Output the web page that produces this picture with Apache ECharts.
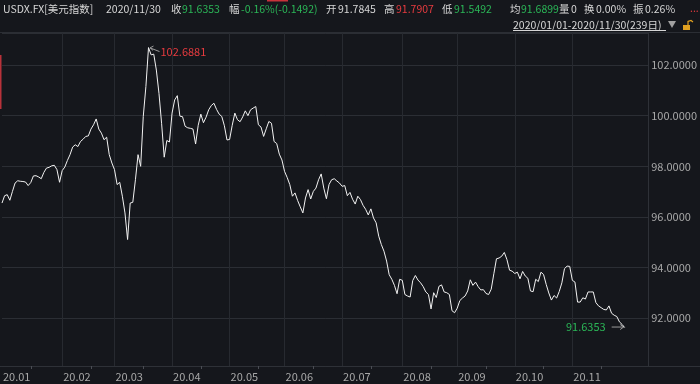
<!DOCTYPE html>
<html><head><meta charset="utf-8">
<script src="https://cdn.jsdelivr.net/npm/echarts@6/dist/echarts.min.js"></script>
<style>html,body{margin:0;padding:0;background:#15171c;}#c{width:700px;height:384px;}</style>
</head><body><div id="c"></div>
<script>
// Month tick labels
const monthLabels = ['20.01','20.02','20.03','20.04','20.05','20.06','20.07','20.08','20.09','20.10','20.11'];
// USDX daily closes, by month (2020/01/01 - 2020/11/30, 239 trading days)
const jan = [96.55,96.84,96.88,96.66,97.01,97.34,97.43,97.41,97.40,97.38,97.24,97.36,97.62,97.63,97.58,97.51,97.76,97.93,97.96,98.02,98.04,97.87,97.37];
const feb = [97.83,97.97,98.23,98.46,98.76,98.85,98.78,98.98,99.07,99.18,99.20,99.47,99.64,99.87,99.47,99.31,99.05,99.15,98.46,98.13];
const mar = [97.87,97.28,97.37,96.82,96.16,95.11,96.55,96.58,97.47,98.46,98.00,99.97,101.15,102.6881,102.40,102.43,101.80,100.88,99.70,98.36,99.02,98.96];
const apr = [100.10,100.62,100.79,99.98,99.96,99.58,99.52,99.50,99.47,98.88,99.62,100.06,99.72,99.94,100.23,100.40,100.49,100.25,100.06,99.97,99.60,99.04];
const may = [99.06,99.62,100.10,99.84,99.76,99.95,100.19,100.00,100.23,100.30,100.36,99.64,99.55,99.18,99.48,99.77,99.70,98.98,98.90,98.48,98.25];
const jun = [97.80,97.56,97.28,96.82,96.95,96.65,96.40,96.16,96.75,97.08,96.71,97.01,97.14,97.47,97.70,97.14,96.72,97.28,97.47,97.51,97.42,97.34];
const jul = [97.21,97.24,96.84,96.97,96.70,96.51,96.82,96.69,96.46,96.30,96.08,96.32,95.96,95.77,95.24,94.91,94.65,94.26,93.72,93.54,93.30,92.97,93.54];
const aug = [93.50,92.94,92.88,92.84,93.49,93.69,93.51,93.40,93.25,93.04,92.94,92.37,93.01,92.82,93.26,93.32,93.04,93.01,92.94,92.30,92.22];
const sep = [92.40,92.70,92.80,92.88,93.08,93.52,93.30,93.43,93.25,93.12,93.13,92.98,92.94,93.15,93.76,94.35,94.38,94.45,94.60,94.32,93.90,93.86];
const oct = [93.77,93.82,93.56,93.85,93.67,93.58,93.08,93.05,93.54,93.45,93.82,93.73,93.34,93.00,92.72,92.90,92.80,93.06,93.40,93.96,94.06,94.05];
const nov = [93.50,93.43,92.64,92.64,92.81,92.76,93.04,93.04,93.04,92.62,92.49,92.42,92.35,92.33,92.49,92.20,92.12,92.07,91.86,91.76,91.6353];
const emptySlots = 9; // blank space right of the last trading day

const months = [jan,feb,mar,apr,may,jun,jul,aug,sep,oct,nov];
const values = [].concat(...months);
const monthStart = [];
{ let acc = 0; months.forEach(m => { monthStart.push(acc); acc += m.length; }); }
const cats = values.map((_, i) => 'd' + i);
for (let k = 0; k < emptySlots; k++) cats.push('e' + k);
const maxIdx = values.indexOf(Math.max(...values));
const lastIdx = values.length - 1;

const FONT = '"Noto Sans CJK SC","Noto Sans",sans-serif';
const GRID = '#272a30';
const chart = echarts.init(document.getElementById('c'), null, {renderer: 'canvas'});
const isMonth = (i) => monthStart.indexOf(i) >= 0;
const isMid = (i) => monthStart.some(s => i === s + 11);

chart.setOption({
  backgroundColor: '#15171c',
  animation: false,
  grid: {left: 2, right: 50, top: 33, bottom: 18},
  xAxis: {
    type: 'category', data: cats, boundaryGap: false,
    axisLine: {show: true, lineStyle: {color: '#2e3137'}},
    axisTick: {show: true, interval: (i) => isMid(i), length: 3, lineStyle: {color: '#4a4d54'}},
    axisLabel: {
      interval: (i) => isMonth(i), align: 'left', margin: 5, padding: [0,0,0,1],
      color: '#a8a8a8', fontSize: 11, fontFamily: FONT,
      formatter: (v, i) => monthLabels[monthStart.indexOf(i)] || ''
    },
    splitLine: {show: true, interval: (i) => isMonth(i) && i > 0, lineStyle: {color: GRID, width: 1}}
  },
  yAxis: {
    type: 'value', position: 'right', min: 90.117, max: 103.263, splitNumber: 6, scale: true,
    axisLine: {show: true, lineStyle: {color: '#2e3137'}},
    axisTick: {show: false},
    axisLabel: {showMinLabel: false, showMaxLabel: false, margin: 3, color: '#a8a8a8', fontSize: 11, fontFamily: FONT,
      formatter: (v) => v.toFixed(4)},
    splitLine: {show: true, lineStyle: {color: '#2b2e34', width: 1}}
  },
  series: [{
    type: 'line', data: values, showSymbol: false, symbol: 'none',
    lineStyle: {color: '#f2f2f2', width: 1}, silent: true
  }]
});

const pMax = chart.convertToPixel({gridIndex: 0}, [maxIdx, values[maxIdx]]);
const pLast = chart.convertToPixel({gridIndex: 0}, [lastIdx, values[lastIdx]]);

const WHITE = '#d6d6d6', GREEN = '#2bb657', RED = '#e63b3f', GRAY = '#9a9a9a';
function t(x, y, text, fill, extra, size) {
  return {type: 'text', silent: true, style: Object.assign({x: x, y: y, text: text, fill: fill,
    font: (size || 10.5) + 'px ' + FONT, verticalAlign: 'middle', textVerticalAlign: 'middle'}, extra || {})};
}
const header = [
  t(3, 9, 'USDX.FX[美元指数]', WHITE),
  t(106, 9, '2020/11/30', WHITE),
  t(171, 9, '收', WHITE), t(182, 9, '91.6353', GREEN),
  t(229, 9, '幅', WHITE), t(241, 9, '-0.16%(-0.1492)', GREEN),
  t(326, 9, '开', WHITE), t(338, 9, '91.7845', WHITE),
  t(384, 9, '高', WHITE), t(396, 9, '91.7907', RED),
  t(442, 9, '低', WHITE), t(454, 9, '91.5492', GREEN),
  t(510, 9, '均', WHITE), t(521, 9, '91.6899', GREEN),
  t(559, 9, '量', WHITE), t(571, 9, '0', WHITE),
  t(584, 9, '换', WHITE), t(596, 9, '0.00%', WHITE),
  t(633, 9, '振', WHITE), t(645, 9, '0.26%', WHITE),
  t(690, 8, '...', RED),
  t(513, 25, '2020/01/01-2020/11/30(239日)', WHITE),
  {type: 'line', silent: true, shape: {x1: 513, y1: 30.5, x2: 666, y2: 30.5}, style: {stroke: WHITE, lineWidth: 1}},
  {type: 'polygon', silent: true, shape: {points: [[668,21],[676,21],[672,28]]}, style: {fill: '#a0a0a0'}},
  {type: 'rect', silent: true, shape: {x: 683, y: 25, width: 7, height: 5}, style: {fill: '#e0a020'}},
  {type: 'polyline', silent: true, shape: {points: [[688,25],[688,21.5],[691,20.5],[693,22]]}, style: {stroke: '#e0a020', lineWidth: 1.2, fill: null}},
  {type: 'rect', silent: true, shape: {x: 267, y: 0, width: 21, height: 1.5}, style: {fill: '#c8323a'}},
  {type: 'rect', silent: true, shape: {x: 0, y: 55, width: 1.5, height: 54}, style: {fill: '#b8323a'}},
  {type: 'line', silent: true, shape: {x1: 0, y1: 32.5, x2: 700, y2: 32.5}, style: {stroke: '#2b2e34', lineWidth: 1}},
  {type: 'line', silent: true, shape: {x1: 0, y1: 366.5, x2: 700, y2: 366.5}, style: {stroke: '#2e3137', lineWidth: 1}}
];
const marks = [
  // max annotation
  {type: 'line', silent: true, shape: {x1: pMax[0] + 2, y1: pMax[1] + 0.5, x2: pMax[0] + 11, y2: pMax[1] + 4}, style: {stroke: GRAY, lineWidth: 1}},
  {type: 'polyline', silent: true, shape: {points: [[pMax[0] + 5, pMax[1] - 1.5], [pMax[0] + 1.5, pMax[1] + 0.3], [pMax[0] + 4.5, pMax[1] + 2.8]]}, style: {stroke: GRAY, lineWidth: 1, fill: null}},
  t(pMax[0] + 12, pMax[1] + 4.5, values[maxIdx].toFixed(4), RED, null, 11),
  // last annotation
  {type: 'line', silent: true, shape: {x1: pLast[0] - 13, y1: pLast[1] - 0.5, x2: pLast[0] - 1, y2: pLast[1] - 0.5}, style: {stroke: GRAY, lineWidth: 1}},
  {type: 'polyline', silent: true, shape: {points: [[pLast[0] - 4.5, pLast[1] - 3], [pLast[0] - 1, pLast[1] - 0.5], [pLast[0] - 4.5, pLast[1] + 2]]}, style: {stroke: GRAY, lineWidth: 1, fill: null}},
  t(pLast[0] - 19, pLast[1] - 0.5, values[lastIdx].toFixed(4), GREEN, {align: 'right', textAlign: 'right'}, 11)
];
chart.setOption({graphic: header.concat(marks)});
</script>
</body></html>
